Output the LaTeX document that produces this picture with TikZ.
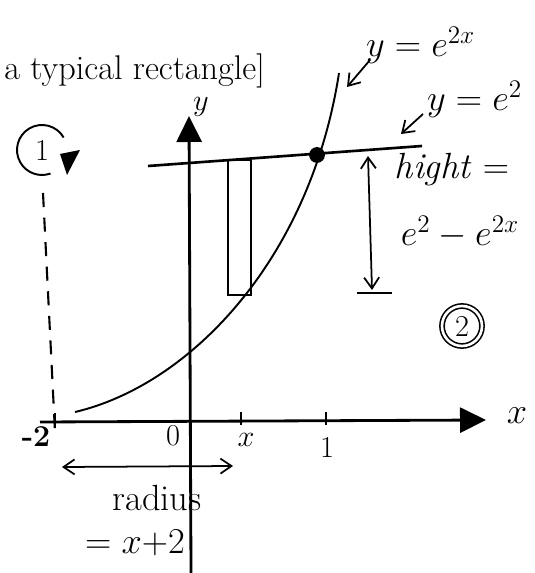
\documentclass[tikz,border=0pt]{standalone}
\usetikzlibrary{arrows.meta, positioning, calc}

\begin{document}
\begin{tikzpicture}[
  x=0.02cm, y=-0.02cm,
  axis/.style={line width=1.6pt, -{Triangle[length=5.2mm, width=5mm]}},
  hand/.style={line width=1.1pt},
  pointer/.style={line width=1pt, -{Straight Barb[length=2.2mm, width=3mm]}},
  span/.style={line width=1pt, {Straight Barb[length=2.2mm, width=3mm]}-{Straight Barb[length=2.2mm, width=3mm]}},
  lbl/.style={font=\huge, inner sep=1pt},
]

% Page bounds
\useasboundingbox (0,0) rectangle (534,573);

% Title fragment
\node[font=\fontsize{19.5}{23}\selectfont, anchor=west, inner sep=0pt] (title) at (4,71) {a typical rectangle]};

% ============================================================
% Axes
% ============================================================
\coordinate (xstart) at (40,422);
\coordinate (xend) at (486,420);
\coordinate (ystart) at (191,573);
\coordinate (yend) at (189,116);
\draw[axis] (xstart) -- (xend);
\draw[axis] (ystart) -- (yend);

\node[lbl] (xlab) at (517,416) {$x$};
\node[lbl, font=\LARGE, inner sep=0pt] (ylab) at (201,107) {$y$};

% Ticks
\coordinate (tkm2) at (55,422);
\coordinate (tkx) at (241,421);
\coordinate (tkone) at (326,421);
\draw[hand] ($(tkx)+(0,-9)$) -- ($(tkx)+(0,4)$);
\draw[hand] ($(tkone)+(0,-9)$) -- ($(tkone)+(0,4)$);
\draw[hand] ($(tkm2)+(0,-9)$) -- ($(tkm2)+(0,4)$);

\node[lbl, font=\LARGE\bfseries] (lm2) at (36,437) {-2};
\node[lbl, font=\LARGE] (lzero) at (173,436) {0};
\node[lbl, font=\LARGE] (lx) at (246,440) {$x$};
\node[lbl, font=\LARGE] (lone) at (327,447) {1};

% ============================================================
% Curve y = e^{2x} and line y = e^2
% ============================================================
\coordinate (cstart) at (75,412);
\coordinate (cend) at (339,73);
\draw[hand] (cstart) .. controls (190,385) and (310,260) .. (cend);

\coordinate (lineL) at (148,166);
\coordinate (lineR) at (422,146);
\draw[line width=1.5pt] (lineL) -- (lineR);
\node[circle, fill, inner sep=0pt, minimum size=9pt] (meet) at (317,155) {};

% Typical rectangle
\draw[line width=1.5pt] (228,160) rectangle (251,295);

% ============================================================
% Labels on the right
% ============================================================
\node[lbl, anchor=south west] (lcurve) at (364,66) {$y = e^{2x}$};
\coordinate (curvetip) at (347,87);
\draw[pointer] ($(lcurve.south west)+(6,-6)$) -- (curvetip);

\node[lbl, anchor=south west] (lline) at (425,120) {$y = e^{2}$};
\coordinate (linetip) at (401,134);
\draw[pointer] ($(lline.south west)+(-2,-6)$) -- (linetip);

% Height
\coordinate (htop) at (368,156);
\coordinate (hbot) at (372,290);
\draw[span] (htop) -- (hbot);
\draw[line width=1.1pt] (357,293) -- (392,293);
\node[lbl] (lhight) at (452,170) {\textit{hight} $=$};
\node[lbl] (lhval) at (460,232) {$e^{2} - e^{2x}$};

\node[draw, circle, double, double distance=1.5pt, line width=0.9pt,
  font=\LARGE, inner sep=0pt, minimum size=0.8cm] (two) at (462,326) {2};

% ============================================================
% Rotation axis x = -2 and radius
% ============================================================
\coordinate (dtop) at (43,193);
\coordinate (dbot) at (55,432);
\draw[line width=1.2pt, dash pattern=on 8pt off 6pt] (dtop) -- (dbot);

% turning sign, drawn as an open loop and a filled head
\coordinate (rotc) at (42,150);
\node[font=\LARGE] (one) at (rotc) {1};
\draw[line width=1.1pt] ($(rotc)+(-30:25)$) arc[start angle=-30, end angle=-290, radius=25];
\fill (60,154) -- (80,150) -- (67,175) -- cycle;

\coordinate (rleft) at (62,467);
\coordinate (rright) at (233,466);
\draw[span] (rleft) -- (rright);
\node[lbl] (lradius) at (157,498) {radius};
\node[lbl] (lrval) at (135,543) {$= x{+}2$};

\end{tikzpicture}
\end{document}
